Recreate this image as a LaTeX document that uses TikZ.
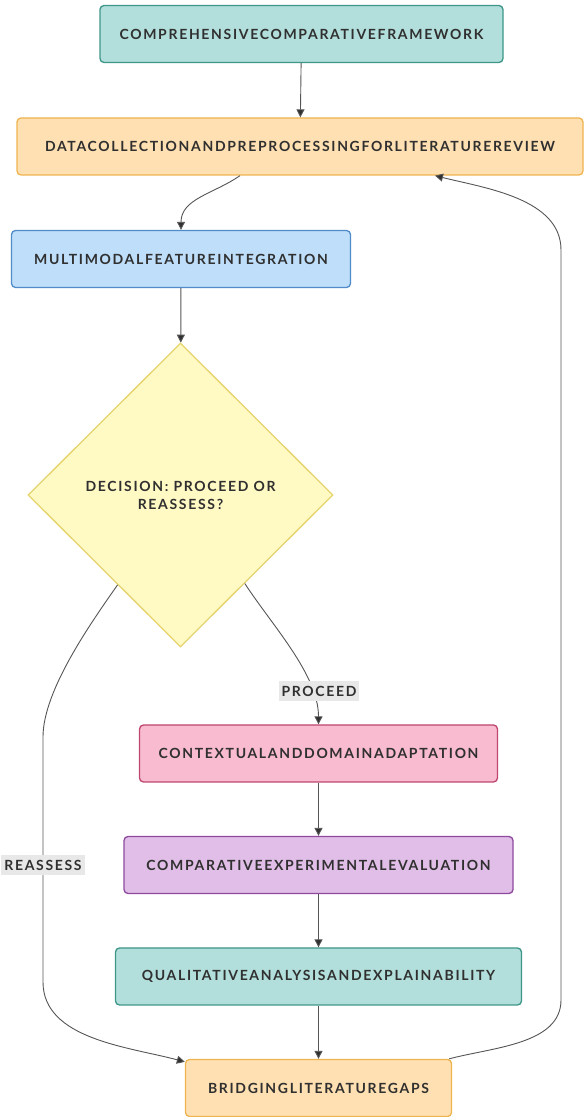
\documentclass[tikz,border=0pt]{standalone}
\usepackage{fontspec}
\newfontfamily\lblfont[LetterSpace=12]{Lato}
\usetikzlibrary{positioning,arrows.meta,shapes.geometric}
\definecolor{graytext}{RGB}{48,48,48}
\definecolor{linegray}{RGB}{85,85,85}
\definecolor{labelgray}{RGB}{232,232,232}
\definecolor{tealfill}{RGB}{178,223,219}
\definecolor{tealline}{RGB}{62,150,136}
\definecolor{orangefill}{RGB}{255,224,178}
\definecolor{orangeline}{RGB}{238,180,80}
\definecolor{bluefill}{RGB}{190,222,250}
\definecolor{blueline}{RGB}{82,140,200}
\definecolor{yellowfill}{RGB}{255,249,196}
\definecolor{yellowline}{RGB}{230,212,110}
\definecolor{pinkfill}{RGB}{248,187,208}
\definecolor{pinkline}{RGB}{190,70,112}
\definecolor{purplefill}{RGB}{225,190,231}
\definecolor{purpleline}{RGB}{142,74,158}
\tikzset{
    lbltext/.style={font=\lblfont\bfseries\fontsize{14}{18}\selectfont, text=graytext},
    box/.style={lbltext, rounded corners=4pt, line width=1.3pt, minimum height=57pt, inner sep=0pt},
    tealbox/.style={box, draw=tealline, fill=tealfill},
    orangebox/.style={box, draw=orangeline, fill=orangefill},
    bluebox/.style={box, draw=blueline, fill=bluefill},
    pinkbox/.style={box, draw=pinkline, fill=pinkfill},
    purplebox/.style={box, draw=purpleline, fill=purplefill},
    decision/.style={lbltext, diamond, aspect=1, draw=yellowline, fill=yellowfill, line width=1.3pt, minimum width=305pt, minimum height=304pt, inner sep=0pt, align=center},
    edgelbl/.style={lbltext, fill=labelgray, inner xsep=3pt, inner ysep=5pt},
    arrow/.style={-{Triangle[length=8pt,width=8pt,fill=graytext]}, line width=0.9pt, draw=linegray}
}

\begin{document}
\begin{tikzpicture}[x=1pt,y=1pt]
\useasboundingbox (0,0) rectangle (584,1117);
\node[tealbox, minimum width=403pt] (frame) at (301.5,1083) {COMPREHENSIVECOMPARATIVEFRAMEWORK};
\node[orangebox, minimum width=566pt] (data) at (300,970.5) {DATACOLLECTIONANDPREPROCESSINGFORLITERATUREREVIEW};
\node[bluebox, minimum width=339pt] (multi) at (181,858) {MULTIMODALFEATUREINTEGRATION};
\node[decision] (dec) at (180.5,622) {DECISION: PROCEED OR\\REASSESS?};
\node[pinkbox, minimum width=358pt] (ctx) at (318.5,363.5) {CONTEXTUALANDDOMAINADAPTATION};
\node[purplebox, minimum width=389pt] (cmp) at (318.5,252) {COMPARATIVEEXPERIMENTALEVALUATION};
\node[tealbox, minimum width=406pt] (qual) at (318.5,140.5) {QUALITATIVEANALYSISANDEXPLAINABILITY};
\node[orangebox, minimum width=266pt] (gaps) at (318.5,29) {BRIDGINGLITERATUREGAPS};

\coordinate (rtop) at (43,380);
\coordinate (rbot) at (43,135);
\coordinate (ftop) at (561,867);
\coordinate (fbot) at (561,117);

\draw[arrow] (frame) -- (data);
\draw[arrow] ([xshift=-60pt]data.south) to[out=215, in=90] (multi.north);
\draw[arrow] (multi) -- (dec);
\draw[arrow] (dec.306) to[out=-57, in=90, looseness=0.8] (ctx.north);
\draw[arrow] (dec.235) to[out=-125, in=90, looseness=0.7] (rtop) -- (rbot) to[out=-90, in=165, looseness=0.9] ([yshift=-3pt]gaps.north west);
\draw[arrow] (ctx) -- (cmp);
\draw[arrow] (cmp) -- (qual);
\draw[arrow] (qual) -- (gaps);
\draw[arrow] ([xshift=-3pt]gaps.north east) to[out=15, in=-90, looseness=0.9] (fbot) -- (ftop) to[out=90, in=-14, looseness=0.9] ([xshift=135pt]data.south);

\node[edgelbl] (lproceed) at (319,426) {PROCEED};
\node[edgelbl] (lreassess) at (43,252) {REASSESS};
\end{tikzpicture}
\end{document}
